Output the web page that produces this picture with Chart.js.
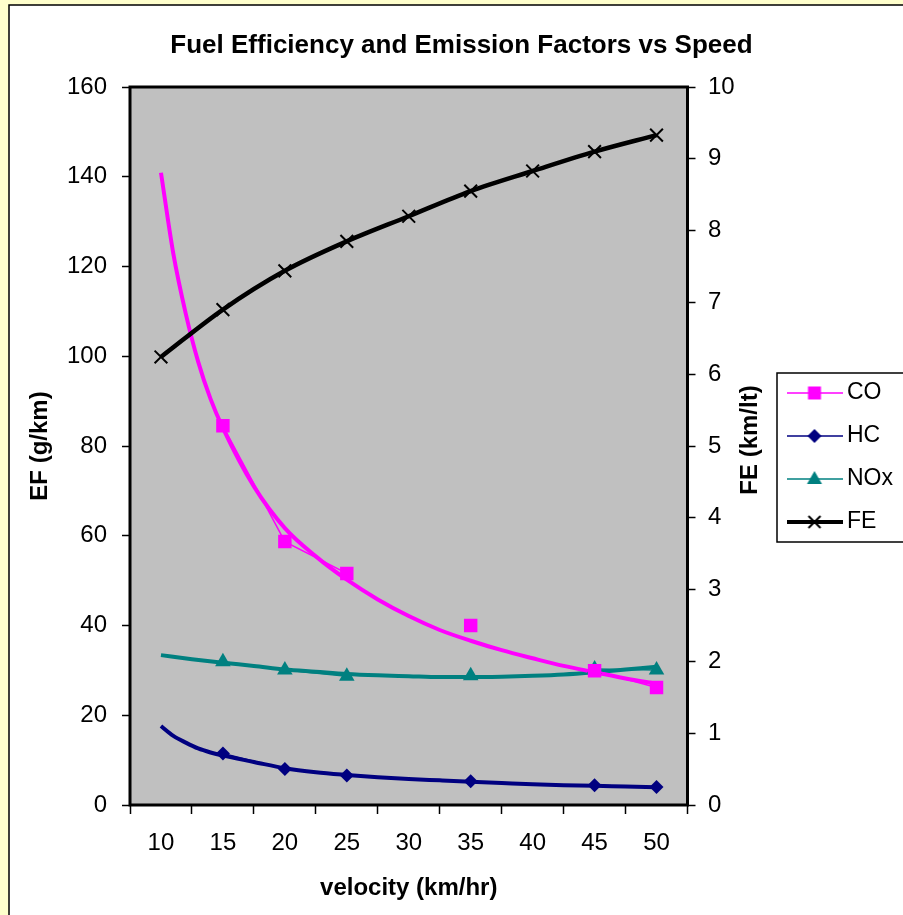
<!DOCTYPE html>
<html>
<head>
<meta charset="utf-8">
<title>Fuel Efficiency and Emission Factors vs Speed</title>
<script src="https://cdn.jsdelivr.net/npm/chart.js@4.4.1/dist/chart.umd.min.js"></script>
<style>
    html, body { margin: 0; padding: 0; background: #fff; }
    canvas { display: block; }
</style>
</head>
<body>
<canvas id="myChart" width="903" height="915"></canvas>
<script>
"use strict"

// measured points (velocity in km/hr)
const speeds = [10, 15, 20, 25, 30, 35, 40, 45, 50]
const coEF = [null, 84.5, 58.7, 51.6, null, 40.0, null, 29.9, 26.2]
const hcEF = [null, 11.5, 8.0, 6.6, null, 5.3, null, 4.4, 4.0]
const noxEF = [null, 31.9, 30.1, 28.7, null, 28.8, null, 30.3, 30.1]
const fuelEff = [6.24, 6.90, 7.44, 7.85, 8.20, 8.55, 8.83, 9.10, 9.33]

// fitted trend curves
const trendSpeeds = [10, 11, 12, 13, 14, 15, 17.5, 20, 22.5, 25, 27.5, 30, 32.5, 35, 37.5, 40, 42.5, 45, 47.5, 50]
const coTrend = [140.9, 122.8, 109.5, 98.8, 90.5, 84.0, 71.0, 61.7, 55.4, 50.2, 45.8, 42.1, 39.0, 36.6, 34.5, 32.7, 31.0, 29.6, 28.2, 27.0]
const hcTrend = [17.6, 15.4, 13.9, 12.6, 11.7, 11.0, 9.6, 8.2, 7.3, 6.7, 6.2, 5.8, 5.5, 5.2, 4.9, 4.6, 4.4, 4.3, 4.1, 3.95]
const noxTrendSpeeds = [10, 12.5, 15, 17.5, 20, 22.5, 25, 27.5, 30, 32.5, 35, 37.5, 40, 42.5, 45, 47.5, 50]
const noxTrend = [33.4, 32.5, 31.7, 31.0, 30.2, 29.7, 29.2, 28.9, 28.7, 28.5, 28.5, 28.6, 28.8, 29.1, 29.6, 30.2, 30.8]

// axis ticks
const xTicks = [7.5, 10, 12.5, 15, 17.5, 20, 22.5, 25, 27.5, 30, 32.5, 35, 37.5, 40, 42.5, 45, 47.5, 50, 52.5]
const seriesNames = ["CO", "HC", "NOx", "FE"]

const FONT = "'Liberation Sans', Arial, sans-serif"
const tickFont = { family: FONT, size: 24 }
const axisTitleFont = { family: FONT, size: 24, weight: 'bold' }

function toPoints(xs, ys) {
    return xs.map((x, i) => ({ x: x, y: ys[i] }))
}

function drawMarker(g, kind, x, y) {
    g.beginPath()
    if (kind == 'square') {
        g.fillRect(x - 6.5, y - 6.5, 13, 13)
    } else if (kind == 'diamond') {
        g.moveTo(x, y - 7); g.lineTo(x + 7, y); g.lineTo(x, y + 7); g.lineTo(x - 7, y); g.closePath(); g.fill()
    } else if (kind == 'triangle') {
        g.moveTo(x, y - 8); g.lineTo(x + 7.5, y + 5); g.lineTo(x - 7.5, y + 5); g.closePath(); g.fill()
    } else {
        g.strokeStyle = '#000'
        g.lineWidth = 2
        g.moveTo(x - 6, y - 6); g.lineTo(x + 6, y + 6)
        g.moveTo(x + 6, y - 6); g.lineTo(x - 6, y + 6)
        g.stroke()
    }
}

// small canvases used as legend symbols: line with the marker in the middle
function legendIcon(color, lineWidth, kind) {
    let c = document.createElement('canvas')
    c.width = 56
    c.height = 20
    let g = c.getContext('2d')
    g.strokeStyle = color
    g.fillStyle = color
    g.lineWidth = lineWidth
    g.beginPath()
    g.moveTo(0, 10)
    g.lineTo(56, 10)
    g.stroke()
    drawMarker(g, kind, 28, 10)
    return c
}

const legendIcons = [
    legendIcon('#FF00FF', 1.5, 'square'),
    legendIcon('#000080', 1.5, 'diamond'),
    legendIcon('#008080', 1.5, 'triangle'),
    legendIcon('#000000', 4, 'cross')
]

const frame = {
    id: 'frame',
    beforeDraw(chart) {
        const { ctx, chartArea: a, width, height } = chart
        ctx.save()
        ctx.fillStyle = '#FFFFCC'
        ctx.fillRect(0, 0, width, height)
        ctx.fillStyle = '#FFFFFF'
        ctx.fillRect(9, 5, width - 9, height - 5)
        ctx.strokeStyle = '#000'
        ctx.lineWidth = 1.5
        ctx.beginPath()
        ctx.moveTo(9, height)
        ctx.lineTo(9, 5)
        ctx.lineTo(width, 5)
        ctx.stroke()
        ctx.fillStyle = '#C0C0C0'
        ctx.fillRect(a.left, a.top, a.right - a.left, a.bottom - a.top)
        ctx.restore()
    },
    afterDraw(chart) {
        const { ctx, chartArea: a, legend } = chart
        ctx.save()
        ctx.strokeStyle = '#000'
        ctx.lineWidth = 3
        ctx.strokeRect(a.left, a.top, a.right - a.left, a.bottom - a.top)

        // legend frame
        let boxes = legend.legendHitBoxes
        let top = boxes[0].top - 8.5
        let bottom = boxes[boxes.length - 1].top + boxes[boxes.length - 1].height + 8.5
        ctx.lineWidth = 1.5
        ctx.strokeRect(legend.left + 3.5, top, 200, bottom - top)

        // right axis title, reading bottom to top
        ctx.fillStyle = '#000'
        ctx.font = "bold 24px " + FONT
        ctx.textAlign = 'center'
        ctx.textBaseline = 'middle'
        ctx.translate(750, 440)
        ctx.rotate(-Math.PI / 2)
        ctx.fillText("FE (km/lt)", 0, 0)
        ctx.restore()
    }
}

let ctx = document.getElementById('myChart').getContext('2d')

let myChart = new Chart(ctx, {
    type: 'line',
    data: {
        datasets: [{
            label: 'CO',
            data: toPoints(speeds, coEF),
            borderColor: '#FF00FF',
            backgroundColor: '#FF00FF',
            borderWidth: 1.5,
            pointStyle: 'rect',
            pointRadius: 9.5,
            pointBorderWidth: 0,
            yAxisID: 'y'
        }, {
            label: 'HC',
            data: toPoints(speeds, hcEF),
            borderColor: '#000080',
            backgroundColor: '#000080',
            borderWidth: 1.5,
            pointStyle: 'rectRot',
            pointRadius: 7,
            pointBorderWidth: 0,
            yAxisID: 'y'
        }, {
            label: 'NOx',
            data: toPoints(speeds, noxEF),
            borderColor: '#008080',
            backgroundColor: '#008080',
            borderWidth: 1.5,
            pointStyle: 'triangle',
            pointRadius: 9,
            pointBorderWidth: 0,
            yAxisID: 'y'
        }, {
            label: 'FE',
            data: toPoints(speeds, fuelEff),
            borderColor: '#000000',
            backgroundColor: '#000000',
            borderWidth: 4.5,
            cubicInterpolationMode: 'monotone',
            pointStyle: 'crossRot',
            pointRadius: 9,
            pointBorderWidth: 2,
            yAxisID: 'y1'
        }, {
            label: 'CO trend',
            data: toPoints(trendSpeeds, coTrend),
            borderColor: '#FF00FF',
            borderWidth: 4,
            cubicInterpolationMode: 'monotone',
            pointRadius: 0,
            yAxisID: 'y'
        }, {
            label: 'HC trend',
            data: toPoints(trendSpeeds, hcTrend),
            borderColor: '#000080',
            borderWidth: 4,
            cubicInterpolationMode: 'monotone',
            pointRadius: 0,
            yAxisID: 'y'
        }, {
            label: 'NOx trend',
            data: toPoints(noxTrendSpeeds, noxTrend),
            borderColor: '#008080',
            borderWidth: 4,
            cubicInterpolationMode: 'monotone',
            pointRadius: 0,
            yAxisID: 'y'
        }]
    },
    options: {
        responsive: false,
        animation: false,
        layout: { padding: { left: 20, right: 0, top: 0, bottom: 0 } },
        plugins: {
            title: {
                display: true,
                text: 'Fuel Efficiency and Emission Factors vs Speed',
                color: '#000',
                font: { family: FONT, size: 26, weight: 'bold' },
                padding: { top: 30.5, bottom: 25.3 }
            },
            legend: {
                position: 'right',
                labels: {
                    usePointStyle: true,
                    pointStyleWidth: 42,
                    padding: 20,
                    color: '#000',
                    font: { family: FONT, size: 23 },
                    generateLabels: chart => seriesNames.map((name, i) => ({
                        text: name,
                        pointStyle: legendIcons[i],
                        datasetIndex: i,
                        fontColor: '#000',
                        lineWidth: 0,
                        hidden: false
                    }))
                }
            },
            tooltip: { enabled: false }
        },
        scales: {
            x: {
                type: 'linear',
                min: 7.5,
                max: 52.5,
                afterBuildTicks: s => { s.ticks = xTicks.map(v => ({ value: v })) },
                afterFit: s => { s.height = 110 },
                ticks: {
                    autoSkip: false,
                    maxRotation: 0,
                    padding: 14.6,
                    color: '#000',
                    font: tickFont,
                    callback: v => v % 5 === 0 ? v : ''
                },
                grid: {
                    drawOnChartArea: false,
                    tickLength: 9,
                    tickWidth: 1.5,
                    tickColor: c => (c.tick && c.tick.value % 5 === 0) ? 'rgba(0,0,0,0)' : '#000'
                },
                border: { display: false },
                title: {
                    display: true,
                    text: 'velocity (km/hr)',
                    color: '#000',
                    font: axisTitleFont,
                    padding: { top: 0, bottom: 12.6 }
                }
            },
            y: {
                position: 'left',
                min: 0,
                max: 160,
                afterFit: s => { s.width = 110 },
                ticks: { stepSize: 20, padding: 15, color: '#000', font: tickFont },
                grid: { drawOnChartArea: false, tickLength: 8, tickWidth: 1.5, tickColor: '#000' },
                border: { display: false },
                title: {
                    display: true,
                    text: 'EF (g/km)',
                    color: '#000',
                    font: axisTitleFont,
                    padding: { top: 5.6, bottom: 0 }
                }
            },
            y1: {
                position: 'right',
                min: 0,
                max: 10,
                afterFit: s => { s.width = 86 },
                ticks: { stepSize: 1, padding: 12.5, color: '#000', font: tickFont },
                grid: { drawOnChartArea: false, tickLength: 8, tickWidth: 1.5, tickColor: '#000' },
                border: { display: false }
            }
        }
    },
    plugins: [frame]
})
</script>
</body>
</html>
